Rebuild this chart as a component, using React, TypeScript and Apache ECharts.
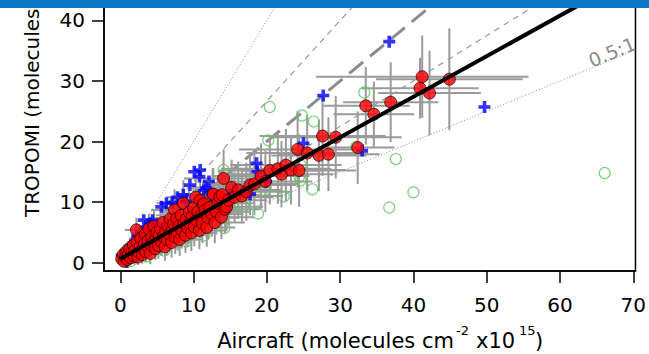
import React, { useEffect, useRef } from 'react';
import * as echarts from 'echarts';

// ---- axis ticks ----
const xTicks = [0, 10, 20, 30, 40, 50, 60, 70];
const yTicks = [0, 10, 20, 30, 40];
const X_MIN = -2.22;
const X_MAX = 70.3;
const Y_MIN = -1.4;
const Y_MAX = 42.56;

// ---- texts ----
const yTitle = 'TROPOMI (molecules';
const xTitleMain = 'Aircraft (molecules cm';
const xTitleExp1 = '-2';
const xTitleMid = 'x10';
const xTitleExp2 = '15';
const xTitleEnd = ')';
const ratioLabel = '0.5:1';

// ---- reference ratio lines (slopes through origin) ----
const refSlopes = [2, 4 / 3, 1, 0.75, 0.5];
// ---- fit line ----
const fitSlope = 0.67;
const fitIntercept = 0.6;

// ---- red points: [x, y, xErr, yErr] ----
const redPoints = [
  [0.2, 0.6, 0.6, 1.0], [0.4, 1.3, 0.8, 1.2], [0.5, 0.2, 0.7, 0.9], [0.7, 0.9, 0.9, 1.1], [0.8, 1.8, 1.0, 1.4],
  [1.0, 0.5, 0.8, 1.0], [1.1, 1.3, 1.1, 1.3], [1.3, 2.3, 1.2, 1.6], [1.4, 0.8, 1.0, 1.2], [1.6, 1.6, 1.3, 1.5],
  [1.8, 2.9, 1.4, 1.8], [1.9, 1.1, 1.2, 1.4], [2.0, 2.0, 1.5, 1.6], [2.2, 5.4, 1.6, 2.0], [2.3, 3.4, 1.4, 1.9],
  [2.4, 0.9, 1.3, 1.3], [2.5, 1.7, 1.5, 1.6], [2.7, 2.6, 1.7, 1.8], [2.8, 4.0, 1.6, 2.1], [3.0, 1.3, 1.4, 1.5],
  [3.1, 2.2, 1.8, 1.9], [3.3, 3.1, 1.7, 2.0], [3.4, 4.7, 1.9, 2.3], [3.5, 1.8, 1.6, 1.7], [3.7, 2.7, 2.0, 2.0],
  [3.8, 3.6, 1.8, 2.2], [3.9, 5.6, 2.1, 2.4], [4.1, 1.5, 1.7, 1.8], [4.2, 2.9, 2.0, 2.1], [4.3, 4.2, 2.2, 2.3],
  [4.5, 3.4, 1.9, 2.2], [4.6, 6.0, 2.3, 2.6], [4.8, 2.3, 2.0, 1.9], [4.9, 3.9, 2.2, 2.4], [5.0, 5.0, 2.4, 2.5],
  [5.2, 2.8, 2.1, 2.2], [5.3, 4.4, 2.5, 2.6], [5.5, 5.6, 2.3, 2.7], [5.6, 3.5, 2.6, 2.4], [5.8, 6.6, 2.4, 2.9],
  [5.9, 4.3, 2.7, 2.5], [6.1, 2.6, 2.2, 2.3], [6.2, 5.1, 2.8, 2.8], [6.4, 3.8, 2.5, 2.6], [6.5, 6.0, 2.9, 3.0],
  [6.7, 4.6, 2.6, 2.7], [6.8, 7.2, 3.0, 3.1], [7.0, 3.3, 2.7, 2.5], [7.1, 5.4, 3.1, 2.9], [7.3, 6.4, 2.8, 3.2],
  [7.4, 8.7, 3.2, 3.4], [7.5, 4.2, 2.9, 2.8], [7.7, 7.3, 3.0, 3.3], [7.8, 5.0, 3.3, 3.0], [8.0, 6.0, 3.1, 3.1],
  [8.1, 3.8, 2.9, 2.7], [8.3, 7.8, 3.4, 3.5], [8.4, 5.3, 3.2, 3.0], [8.6, 9.8, 3.6, 3.8], [8.7, 6.5, 3.3, 3.2],
  [8.9, 4.5, 3.0, 2.9], [9.0, 7.2, 3.5, 3.4], [9.2, 5.7, 3.4, 3.1], [9.4, 8.3, 3.7, 3.6], [9.5, 6.5, 3.5, 3.3],
  [9.7, 4.9, 3.2, 3.0], [9.8, 7.6, 3.8, 3.5], [10.0, 9.0, 3.9, 3.7], [10.1, 5.9, 3.6, 3.2], [10.3, 10.8, 4.0, 4.0],
  [10.4, 7.0, 3.7, 3.4], [10.6, 8.4, 4.1, 3.8], [10.8, 5.3, 3.5, 3.1], [10.9, 10.3, 4.2, 4.1], [11.0, 7.7, 3.9, 3.6],
  [11.2, 6.5, 3.8, 3.3], [11.3, 9.5, 4.3, 3.9], [11.4, 9.7, 4.1, 4.0], [11.6, 8.6, 4.4, 3.8], [11.8, 5.8, 3.9, 3.2],
  [12.0, 7.4, 4.2, 3.5], [12.2, 9.1, 4.5, 3.9], [12.5, 8.0, 4.3, 3.7], [12.6, 11.2, 4.8, 4.4], [12.7, 11.3, 4.6, 4.3],
  [12.9, 6.6, 4.1, 3.4], [13.1, 8.4, 4.7, 3.8], [13.3, 9.8, 4.9, 4.1], [13.6, 10.9, 5.0, 4.3], [13.8, 7.5, 4.4, 3.6],
  [13.9, 11.2, 5.1, 4.5], [14.1, 13.9, 5.4, 4.8], [14.3, 8.8, 4.8, 3.9], [14.5, 9.2, 5.0, 4.0], [14.8, 10.3, 5.2, 4.2],
  [15.2, 12.4, 5.5, 4.6], [15.6, 10.8, 5.3, 4.2], [16.1, 12.0, 5.8, 4.7], [16.6, 11.0, 5.6, 4.4], [17.2, 11.7, 6.0, 4.8],
  [17.7, 12.8, 6.3, 5.0], [18.3, 13.0, 6.1, 5.2], [19.2, 14.3, 6.6, 5.4], [19.8, 13.4, 6.4, 5.1], [20.4, 15.2, 7.0, 5.6],
  [21.5, 15.5, 7.3, 5.8], [22.0, 14.6, 7.1, 5.5], [22.6, 16.1, 7.6, 6.0], [23.3, 15.3, 7.4, 5.7], [24.2, 18.7, 8.0, 6.3],
  [24.4, 15.2, 7.8, 6.0], [25.5, 18.1, 8.3, 6.2], [27.1, 17.7, 6.5, 5.9], [27.6, 20.9, 8.6, 6.6], [28.4, 17.9, 7.0, 6.1],
  [29.4, 20.7, 9.0, 6.8], [32.4, 19.0, 5.0, 6.0], [33.5, 25.9, 6.0, 6.4], [34.6, 24.5, 5.5, 5.4], [36.9, 26.5, 6.5, 6.6],
  [40.9, 28.8, 8.0, 5.0], [41.2, 30.7, 14.5, 6.8], [42.2, 28.0, 7.0, 7.0], [44.9, 30.3, 10.0, 8.4],
];

// ---- blue plus points: [x, y] ----
const bluePoints = [
  [0.2, 1.2], [0.9, 0.1], [1.5, 2.8], [2.3, 4.3], [2.8, 5.0], [3.2, 7.0], [3.6, 5.7], [4.1, 6.5], [4.4, 7.0],
  [5.6, 9.2], [6.3, 9.8], [7.1, 9.9], [7.8, 10.8], [8.6, 11.2], [9.0, 10.1], [9.5, 12.8], [10.1, 15.0],
  [10.8, 14.2], [10.9, 15.3], [11.4, 11.9], [11.7, 12.3], [12.1, 13.4], [13.0, 10.5], [15.0, 11.2],
  [17.7, 11.3], [18.6, 16.4], [18.7, 15.0], [19.9, 13.4], [25.0, 19.7], [27.7, 27.6], [33.0, 18.5],
  [36.7, 36.5], [49.7, 25.7],
];

// ---- green open circles: [x, y] ----
const greenPoints = [
  [1.5, 0.3], [3.5, 1.0], [6.0, 2.0], [9.0, 3.5], [11.5, 4.5], [14.2, 5.7], [14.1, 15.3], [16.8, 9.3],
  [18.8, 8.1], [19.7, 12.0], [20.2, 20.2], [20.4, 25.7], [22.3, 10.9], [24.4, 14.2], [24.6, 13.6],
  [24.6, 16.1], [24.8, 24.3], [26.2, 12.1], [26.4, 23.3], [32.2, 19.1], [33.3, 28.1], [36.7, 9.1],
  [37.6, 17.1], [40.0, 11.6], [66.1, 14.8],
];

const FONT = 'DejaVu Sans';

export default function App() {
  const ref = useRef<HTMLDivElement>(null);

  useEffect(() => {
    if (!ref.current) return;
    const chart = echarts.init(ref.current, null, { renderer: 'svg' });

    const refStyles = [
      { color: '#8a8a8a', width: 1, type: [1, 2] },
      { color: '#9a9a9a', width: 1.2, type: [6, 5] },
      { color: '#8c8c8c', width: 3, type: [18, 9] },
      { color: '#9a9a9a', width: 1.2, type: [6, 5] },
      { color: '#8a8a8a', width: 1, type: [1, 2] },
    ];

    const refSeries = refSlopes.map((s, i) => ({
      type: 'line',
      data: [[0, 0], [X_MAX, X_MAX * s]],
      showSymbol: false,
      symbol: 'none',
      silent: true,
      z: 1,
      lineStyle: refStyles[i],
    }));

    const clampX = (v: number) => Math.max(X_MIN, Math.min(X_MAX, v));
    const clampY = (v: number) => Math.max(Y_MIN, Math.min(Y_MAX, v));

    const txt = (text: string, x: number, y: number, size: number, align: string) => ({
      type: 'text',
      z: 50,
      x,
      y,
      style: { text, fontSize: size, fontFamily: FONT, fill: '#000', align, verticalAlign: 'middle' },
    });

    const option: any = {
      animation: false,
      backgroundColor: '#ffffff',
      textStyle: { fontFamily: FONT },
      grid: {
        left: 104,
        right: 7,
        top: 5,
        bottom: 83,
        show: true,
        borderColor: '#000',
        borderWidth: 1.5,
        backgroundColor: 'transparent',
      },
      xAxis: {
        type: 'value',
        min: X_MIN,
        max: X_MAX,
        axisLine: { show: true, onZero: false, lineStyle: { color: '#000', width: 1.5 } },
        axisTick: { show: true, customValues: xTicks, length: 12, lineStyle: { color: '#000', width: 1.5 } },
        axisLabel: { customValues: xTicks, margin: 24, fontSize: 20, fontFamily: FONT, color: '#000' },
        splitLine: { show: false },
      },
      yAxis: {
        type: 'value',
        min: Y_MIN,
        max: Y_MAX,
        axisLine: { show: true, onZero: false, lineStyle: { color: '#000', width: 1.5 } },
        axisTick: { show: true, customValues: yTicks, length: 12, lineStyle: { color: '#000', width: 1.5 } },
        axisLabel: { customValues: yTicks, margin: 19, fontSize: 20, fontFamily: FONT, color: '#000' },
        splitLine: { show: false },
      },
      series: [
        ...refSeries,
        {
          type: 'custom',
          z: 2,
          silent: true,
          encode: { x: 0, y: 1 },
          data: redPoints,
          renderItem: (params: any, api: any) => {
            const x = api.value(0);
            const y = api.value(1);
            const xe = api.value(2);
            const ye = api.value(3);
            const a = api.coord([clampX(x - xe), y]);
            const b = api.coord([clampX(x + xe), y]);
            const c = api.coord([x, clampY(y - ye)]);
            const d = api.coord([x, clampY(y + ye)]);
            const st = { stroke: '#9a9a9a', lineWidth: 2 };
            return {
              type: 'group',
              children: [
                { type: 'line', shape: { x1: a[0], y1: a[1], x2: b[0], y2: b[1] }, style: st },
                { type: 'line', shape: { x1: c[0], y1: c[1], x2: d[0], y2: d[1] }, style: st },
              ],
            };
          },
        },
        {
          type: 'scatter',
          z: 3,
          silent: true,
          data: greenPoints,
          symbol: 'circle',
          symbolSize: 11,
          itemStyle: { color: 'rgba(0,0,0,0)', borderColor: '#5cc65c', borderWidth: 1.2 },
        },
        {
          type: 'scatter',
          z: 4,
          silent: true,
          data: bluePoints,
          symbol: 'path://M3.5,0H6.5V3.5H10V6.5H6.5V10H3.5V6.5H0V3.5H3.5Z',
          symbolSize: 12,
          itemStyle: { color: '#0000ff' },
        },
        {
          type: 'scatter',
          z: 5,
          silent: true,
          data: redPoints.map((p) => [p[0], p[1]]),
          symbol: 'circle',
          symbolSize: 12,
          itemStyle: { color: '#ff0000', borderColor: '#1a0000', borderWidth: 0.9 },
        },
        {
          type: 'line',
          z: 6,
          silent: true,
          showSymbol: false,
          symbol: 'none',
          data: [[0, fitIntercept], [X_MAX, fitIntercept + fitSlope * X_MAX]],
          lineStyle: { color: '#000', width: 4 },
        },
      ],
      graphic: [
        {
          type: 'rect',
          z: 100,
          shape: { x: 0, y: 0, width: 649, height: 8 },
          style: { fill: '#0b78c5' },
        },
        {
          type: 'text',
          z: 50,
          x: 32,
          y: 217,
          rotation: Math.PI / 2,
          style: {
            text: yTitle,
            fontSize: 20,
            fontFamily: FONT,
            fill: '#000',
            align: 'left',
            verticalAlign: 'middle',
          },
        },
        txt(xTitleMain, 454, 340.5, 21, 'right'),
        txt(xTitleExp1, 456, 330, 13, 'left'),
        txt(xTitleMid, 476, 340.5, 21, 'left'),
        txt(xTitleExp2, 519, 330, 13, 'left'),
        txt(xTitleEnd, 535, 340.5, 21, 'left'),
        {
          type: 'text',
          z: 50,
          x: 612,
          y: 52,
          rotation: 0.387,
          style: {
            text: ratioLabel,
            fontSize: 19,
            fontFamily: FONT,
            fill: '#8a8a8a',
            align: 'center',
            verticalAlign: 'middle',
          },
        },
      ],
    };

    chart.setOption(option);
    return () => {
      chart.dispose();
    };
  }, []);

  return (
    <div
      ref={ref}
      style={{ position: 'fixed', left: 0, top: 0, width: 649, height: 354, background: '#fff' }}
    />
  );
}
